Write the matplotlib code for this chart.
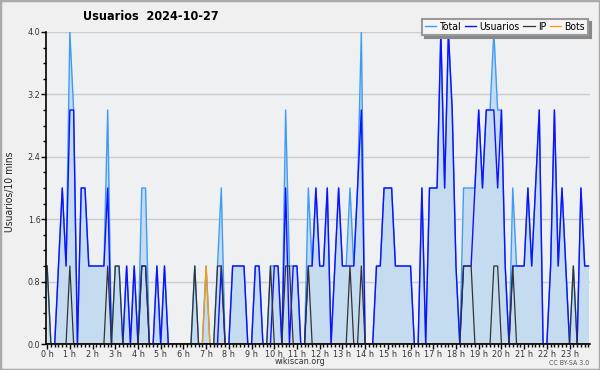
import numpy as np
import matplotlib.pyplot as plt
from matplotlib.patches import Rectangle
from matplotlib.ticker import MultipleLocator, FixedLocator

plt.rcParams['font.family'] = 'DejaVu Sans'
plt.rcParams['font.stretch'] = 'condensed'

# values per 10 minutes, 144 slots (0h .. 23h50)
usuarios = [0, 0, 0, 1, 2, 1, 3, 3, 0, 2, 2, 1, 1, 1, 1, 1, 2, 0, 0, 0,
            0, 1, 0, 1, 0, 1, 1, 0, 0, 1, 0, 1, 0, 0, 0, 0, 0, 0, 0, 0,
            0, 0, 0, 0, 0, 0, 1, 0, 0, 1, 1, 1, 1, 0, 0, 1, 1, 0, 0, 0,
            1, 1, 0, 2, 0, 1, 1, 0, 0, 1, 1, 2, 1, 1, 2, 0, 1, 2, 1, 1,
            1, 1, 2, 3, 0, 0, 0, 1, 1, 2, 2, 2, 1, 1, 1, 1, 1, 0, 0, 2,
            0, 2, 2, 2, 4, 2, 4, 3, 1, 0, 1, 1, 1, 2, 3, 2, 3, 3, 3, 2,
            3, 1, 0, 1, 1, 1, 1, 2, 1, 2, 3, 0, 0, 1, 3, 1, 2, 1, 0, 0,
            0, 2, 1, 1]
ip_slots = [0, 6, 16, 18, 19, 25, 26, 39, 45, 46, 59, 63, 64, 69, 80, 83,
            110, 111, 112, 118, 119, 123, 139]
bots_slots = [42]

hour_labels = [f'{h} h' for h in range(24)]

usuarios = np.array(usuarios)
ip = np.zeros(144)
ip[ip_slots] = 1
bots = np.zeros(144)
bots[bots_slots] = 1
total = usuarios + ip + bots
t = np.arange(144) / 6

fig = plt.figure(figsize=(6, 3.7), dpi=100, facecolor='#f0f0f0')
ax = fig.add_axes([46/600, 26/370, 544/600, 312/370], facecolor='#eef0f2')

ax.fill_between(t, total, color='#c5dcf0', lw=0, zorder=1)
l_total, = ax.plot(t, total, color='#3d9cf5', lw=1.0, zorder=2)
l_usr, = ax.plot(t, usuarios, color='#1010ff', lw=1.0, zorder=3)
l_ip, = ax.plot(t, ip, color='#333333', lw=0.9, zorder=4)
l_bots, = ax.plot(t, bots, color='#ff9900', lw=0.9, zorder=4)

ax.set_xlim(-0.05, 23.9)
ax.set_ylim(0, 4.0)

ax.xaxis.set_major_locator(FixedLocator(range(24)))
ax.set_xticklabels(hour_labels)
ax.xaxis.set_minor_locator(MultipleLocator(1/6))
ax.yaxis.set_major_locator(MultipleLocator(0.8))
ax.yaxis.set_minor_locator(MultipleLocator(0.2))
ax.yaxis.set_major_formatter(plt.FormatStrFormatter('%.1f'))

ax.tick_params(which='major', direction='out', length=3.5, width=1, labelsize=6.5,
               labelcolor='#333333', pad=0.5)
ax.tick_params(which='minor', direction='out', length=2.5, width=1)

for s in ['top', 'right']:
    ax.spines[s].set_visible(False)
for s in ['left', 'bottom']:
    ax.spines[s].set_linewidth(1.2)
    ax.spines[s].set_zorder(6)

ax.grid(axis='y', which='major', color='#cccccc', lw=1)
ax.set_axisbelow(True)

leg = ax.legend([l_total, l_usr, l_ip, l_bots], ['Total', 'Usuarios', 'IP', 'Bots'],
                loc='upper right', bbox_to_anchor=(588/600, 1 - 19/370),
                bbox_transform=fig.transFigure, borderaxespad=0, ncol=4,
                fontsize=7.5, handlelength=1.1, handletextpad=0.3,
                columnspacing=0.35, borderpad=0.3, fancybox=False, framealpha=1,
                edgecolor='#999999', facecolor='#f5f5f5',
                shadow={'color': '#888888', 'alpha': 1})
leg.set_zorder(10)
leg.get_frame().set_linewidth(1.5)

fig.text(151/600, 1 - 17/370, 'Usuarios  2024-10-27', ha='center', va='center',
         fontsize=9, fontweight='bold')
fig.text(10/600, 1 - 192/370, 'Usuarios/10 mins', rotation=90, ha='center',
         va='center', fontsize=7.5, color='#222222')
fig.text(300/600, 1 - 362/370, 'wikiscan.org', ha='center', va='center',
         fontsize=6.5, color='#333333')
fig.text(589/600, 1 - 363/370, 'CC BY-SA 3.0', ha='right', va='center',
         fontsize=5, color='#555555')

fig.add_artist(Rectangle((0, 0), 1, 1, transform=fig.transFigure, fill=False,
                         edgecolor='#aaaaaa', lw=2.5))

fig.savefig('out.png', dpi=100, facecolor=fig.get_facecolor())
